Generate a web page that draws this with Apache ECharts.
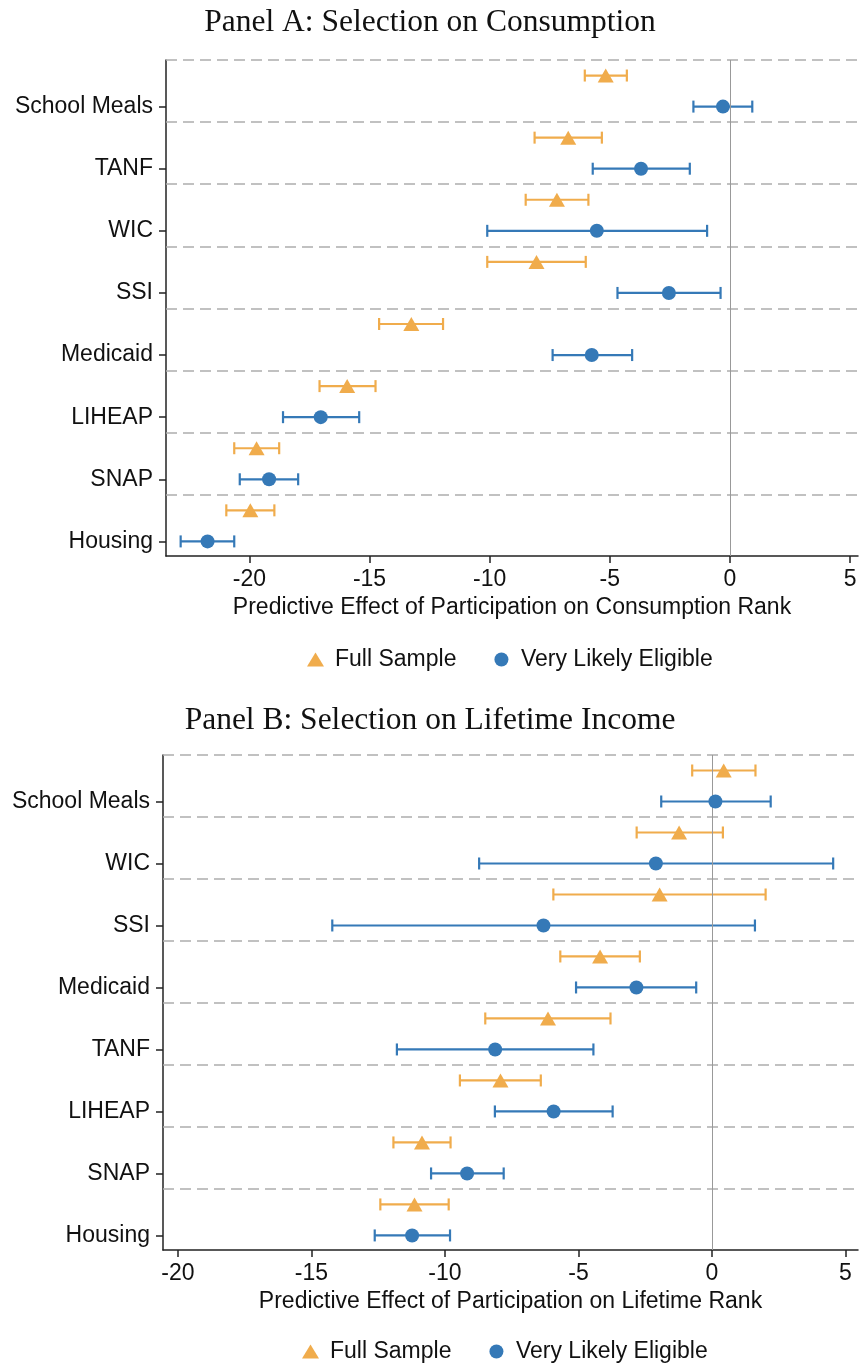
<!DOCTYPE html>
<html>
<head>
<meta charset="utf-8">
<script src="https://cdn.jsdelivr.net/npm/echarts@6/dist/echarts.min.js"></script>
<style>
html,body{margin:0;padding:0;background:#fff;}
#chart{width:860px;height:1364px;}
</style>
</head>
<body>
<div id="chart"></div>
<script>
// ---------- Data (top to bottom order) ----------
const titleA = 'Panel A: Selection on Consumption';
const titleB = 'Panel B: Selection on Lifetime Income';
const xTitleA = 'Predictive Effect of Participation on Consumption Rank';
const xTitleB = 'Predictive Effect of Participation on Lifetime Rank';
const seriesNames = ['Full Sample', 'Very Likely Eligible'];

const catsA = ['School Meals','TANF','WIC','SSI','Medicaid','LIHEAP','SNAP','Housing'];
const fullA   = [-5.17, -6.73, -7.20, -8.05, -13.26, -15.93, -19.70, -19.96];
const fullALo = [-6.04, -8.13, -8.50, -10.10, -14.60, -17.08, -20.63, -20.96];
const fullAHi = [-4.29, -5.33, -5.89, -6.00, -11.94, -14.75, -18.76, -18.96];
const vleA    = [-0.29, -3.70, -5.54, -2.54, -5.75, -17.03, -19.18, -21.74];
const vleALo  = [-1.52, -5.71, -10.10, -4.68, -7.38, -18.60, -20.40, -22.86];
const vleAHi  = [0.93, -1.67, -0.95, -0.39, -4.07, -15.43, -17.97, -20.63];
const ticksA  = [-20, -15, -10, -5, 0, 5];

const catsB = ['School Meals','WIC','SSI','Medicaid','TANF','LIHEAP','SNAP','Housing'];
const fullB   = [0.44, -1.23, -1.96, -4.19, -6.14, -7.92, -10.86, -11.14];
const fullBLo = [-0.74, -2.82, -5.94, -5.68, -8.49, -9.44, -11.93, -12.42];
const fullBHi = [1.63, 0.41, 2.01, -2.70, -3.80, -6.41, -9.79, -9.86];
const vleB    = [0.13, -2.10, -6.31, -2.83, -8.12, -5.93, -9.17, -11.23];
const vleBLo  = [-1.90, -8.72, -14.22, -5.09, -11.80, -8.13, -10.52, -12.63];
const vleBHi  = [2.20, 4.54, 1.61, -0.59, -4.44, -3.72, -7.80, -9.81];
const ticksB  = [-20, -15, -10, -5, 0, 5];

// ---------- Styling ----------
const ORANGE = '#F0AC4C';
const BLUE = '#3579B7';
const SANS = 'Liberation Sans, Arial, Helvetica, sans-serif';
const SERIF = 'Liberation Serif, Times New Roman, serif';
const FS = 23;
const TRI_OFF = 0.5;   // vertical offset of full-sample row within a group
const SEP_OFF = 0.75;  // dashed separator offset

function yPos(n, i) { return n - 1 - i; }

function errData(lo, hi, n, off) {
  return lo.map((v, i) => [v, hi[i], yPos(n, i) + off]);
}
function ptData(est, n, off) {
  return est.map((v, i) => [v, yPos(n, i) + off]);
}

function errRender(color) {
  return function (params, api) {
    const y = api.value(2);
    const p1 = api.coord([api.value(0), y]);
    const p2 = api.coord([api.value(1), y]);
    const h = 6;
    const st = { stroke: color, lineWidth: 2.2 };
    return {
      type: 'group',
      children: [
        { type: 'line', shape: { x1: p1[0], y1: p1[1], x2: p2[0], y2: p2[1] }, style: st },
        { type: 'line', shape: { x1: p1[0], y1: p1[1] - h, x2: p1[0], y2: p1[1] + h }, style: st },
        { type: 'line', shape: { x1: p2[0], y1: p2[1] - h, x2: p2[0], y2: p2[1] + h }, style: st }
      ]
    };
  };
}

function panelSeries(idx, cats, full, fullLo, fullHi, vle, vleLo, vleHi) {
  const n = cats.length;
  const seps = [];
  for (let i = 0; i < n; i++) seps.push({ yAxis: i + SEP_OFF });
  return [
    {
      type: 'custom', xAxisIndex: idx, yAxisIndex: idx, silent: true,
      renderItem: errRender(ORANGE), encode: { x: [0, 1], y: 2 },
      data: errData(fullLo, fullHi, n, TRI_OFF), z: 3,
      markLine: {
        silent: true, symbol: 'none', label: { show: false },
        lineStyle: { color: '#adadad', type: [11, 6], width: 1.5 },
        data: seps
      }
    },
    {
      type: 'custom', xAxisIndex: idx, yAxisIndex: idx, silent: true,
      renderItem: errRender(BLUE), encode: { x: [0, 1], y: 2 },
      data: errData(vleLo, vleHi, n, 0), z: 3,
      markLine: {
        silent: true, symbol: 'none', label: { show: false },
        lineStyle: { color: '#999', type: 'solid', width: 1 },
        data: [{ xAxis: 0 }]
      }
    },
    {
      name: seriesNames[0], type: 'scatter', xAxisIndex: idx, yAxisIndex: idx,
      symbol: 'triangle', symbolSize: [16, 14],
      itemStyle: { color: ORANGE, opacity: 1 }, z: 5,
      data: ptData(full, n, TRI_OFF)
    },
    {
      name: seriesNames[1], type: 'scatter', xAxisIndex: idx, yAxisIndex: idx,
      symbol: 'circle', symbolSize: 14,
      itemStyle: { color: BLUE, opacity: 1 }, z: 5,
      data: ptData(vle, n, 0)
    }
  ];
}

function xAxis(idx, min, max, ticks, name) {
  return {
    type: 'value', gridIndex: idx, min: min, max: max,
    name: name, nameLocation: 'middle', nameGap: 40,
    nameTextStyle: { fontFamily: SANS, fontSize: FS, color: '#111' },
    axisLine: { show: true, onZero: false, lineStyle: { color: '#222', width: 1.5 } },
    axisTick: { show: true, length: 7, customValues: ticks, lineStyle: { color: '#222', width: 1.5 } },
    axisLabel: { customValues: ticks, margin: 12, fontFamily: SANS, fontSize: FS, color: '#111' },
    splitLine: { show: false }
  };
}

function yAxis(idx, cats) {
  const n = cats.length;
  const vals = cats.map((c, i) => i);
  return {
    type: 'value', gridIndex: idx, min: -0.235, max: n - 1 + SEP_OFF,
    axisLine: { show: true, onZero: false, lineStyle: { color: '#222', width: 1.5 } },
    axisTick: { show: true, length: 7, customValues: vals, lineStyle: { color: '#222', width: 1.5 } },
    axisLabel: {
      customValues: vals, margin: 13, fontFamily: SANS, fontSize: FS, color: '#111',
      formatter: v => cats[n - 1 - Math.round(v)]
    },
    splitLine: { show: false }
  };
}

const chart = echarts.init(document.getElementById('chart'), null, { renderer: 'canvas' });
chart.setOption({
  animation: false,
  backgroundColor: '#fff',
  title: [
    { text: titleA, left: 'center', top: 2, textStyle: { fontFamily: SERIF, fontSize: 31.5, fontWeight: 'normal', color: '#111' } },
    { text: titleB, left: 'center', top: 700, textStyle: { fontFamily: SERIF, fontSize: 31.5, fontWeight: 'normal', color: '#111' } }
  ],
  legend: [
    {
      left: 302, top: 643, itemGap: 38, itemWidth: 17, itemHeight: 14,
      textStyle: { fontFamily: SANS, fontSize: FS, color: '#111', padding: [0, 0, 0, 6] },
      data: [{ name: seriesNames[0], icon: 'triangle' }, { name: seriesNames[1], icon: 'circle' }]
    },
    {
      left: 297, top: 1335, itemGap: 38, itemWidth: 17, itemHeight: 14,
      textStyle: { fontFamily: SANS, fontSize: FS, color: '#111', padding: [0, 0, 0, 6] },
      data: [{ name: seriesNames[0], icon: 'triangle' }, { name: seriesNames[1], icon: 'circle' }]
    }
  ],
  grid: [
    { left: 166, top: 60, width: 692, height: 496, containLabel: false },
    { left: 163, top: 755, width: 695, height: 495, containLabel: false }
  ],
  xAxis: [
    xAxis(0, -23.47, 5.33, ticksA, xTitleA),
    xAxis(1, -20.56, 5.47, ticksB, xTitleB)
  ],
  yAxis: [yAxis(0, catsA), yAxis(1, catsB)],
  series: [].concat(
    panelSeries(0, catsA, fullA, fullALo, fullAHi, vleA, vleALo, vleAHi),
    panelSeries(1, catsB, fullB, fullBLo, fullBHi, vleB, vleBLo, vleBHi)
  )
});
</script>
</body>
</html>
